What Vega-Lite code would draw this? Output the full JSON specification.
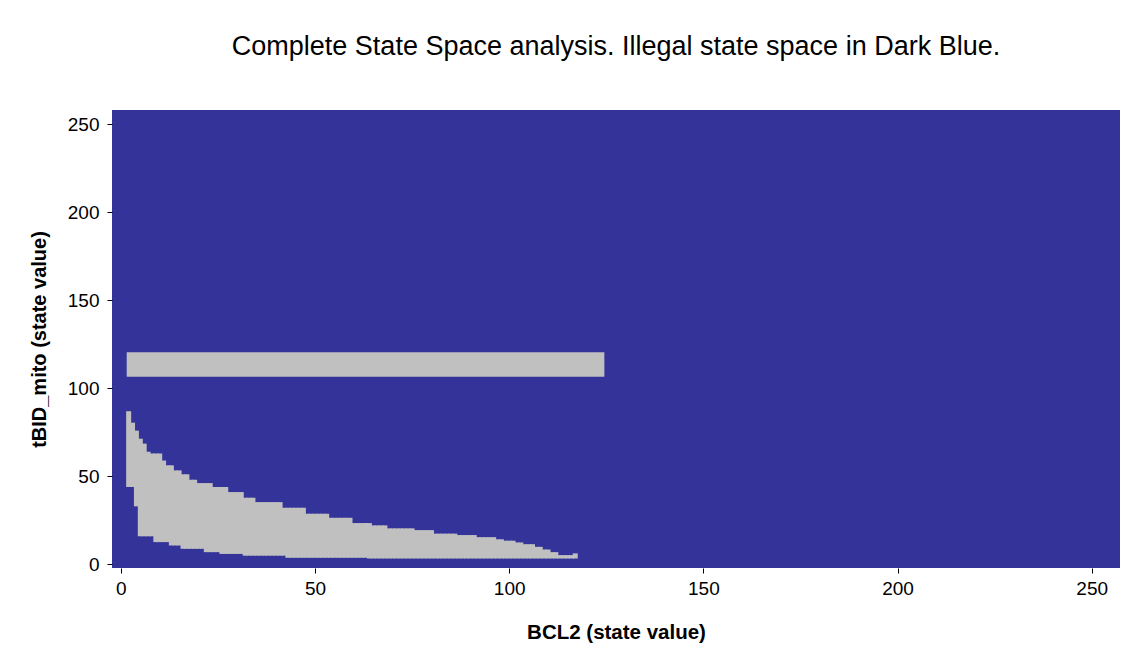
{
  "$schema": "https://vega.github.io/schema/vega-lite/v6.json",
  "autosize": "none",
  "width": 1008,
  "height": 458,
  "padding": {"left": 112, "top": 110, "right": 23, "bottom": 92},
  "background": "white",
  "title": {
    "text": "Complete State Space analysis. Illegal state space in Dark Blue.",
    "font": "Liberation Sans",
    "fontSize": 27,
    "fontWeight": "normal",
    "color": "black",
    "anchor": "middle",
    "offset": 49
  },
  "config": {
    "view": {"fill": "#333399", "stroke": null},
    "axis": {
      "labelFont": "Liberation Sans",
      "titleFont": "Liberation Sans",
      "labelFontSize": 19,
      "titleFontSize": 20,
      "titleFontWeight": "bold",
      "labelColor": "black",
      "titleColor": "black",
      "tickColor": "black",
      "tickSize": 5,
      "domain": false,
      "grid": false
    }
  },
  "datasets": {
    "legal_band": [
      {"bcl2_start": 1.5, "bcl2_end": 124.5, "tbid_start": 106.5, "tbid_end": 120.5}
    ],
    "legal_curve": [
      {"bcl2": 2, "lo": 44, "hi": 87},
      {"bcl2": 3, "lo": 44, "hi": 80.5},
      {"bcl2": 4, "lo": 33, "hi": 76},
      {"bcl2": 5, "lo": 16, "hi": 71.4},
      {"bcl2": 6, "lo": 16, "hi": 68.6},
      {"bcl2": 7, "lo": 16, "hi": 64},
      {"bcl2": 8, "lo": 16, "hi": 63},
      {"bcl2": 9, "lo": 12.7, "hi": 63},
      {"bcl2": 10, "lo": 12.7, "hi": 63},
      {"bcl2": 11, "lo": 12.7, "hi": 59},
      {"bcl2": 12, "lo": 12.7, "hi": 56.3},
      {"bcl2": 13, "lo": 10.8, "hi": 56.3},
      {"bcl2": 14, "lo": 10.8, "hi": 53.4},
      {"bcl2": 15, "lo": 10.8, "hi": 53.4},
      {"bcl2": 16, "lo": 8.9, "hi": 51.2},
      {"bcl2": 17, "lo": 8.9, "hi": 51.2},
      {"bcl2": 18, "lo": 8.9, "hi": 48.1},
      {"bcl2": 19, "lo": 8.9, "hi": 48.1},
      {"bcl2": 20, "lo": 8.9, "hi": 46.2},
      {"bcl2": 21, "lo": 8.9, "hi": 46.2},
      {"bcl2": 22, "lo": 7, "hi": 46.2},
      {"bcl2": 23, "lo": 7, "hi": 46.2},
      {"bcl2": 24, "lo": 7, "hi": 44},
      {"bcl2": 25, "lo": 7, "hi": 44},
      {"bcl2": 26, "lo": 6, "hi": 44},
      {"bcl2": 27, "lo": 6, "hi": 44},
      {"bcl2": 28, "lo": 6, "hi": 41.1},
      {"bcl2": 29, "lo": 6, "hi": 41.1},
      {"bcl2": 30, "lo": 6, "hi": 41.1},
      {"bcl2": 31, "lo": 6, "hi": 41.1},
      {"bcl2": 32, "lo": 5, "hi": 37.9},
      {"bcl2": 33, "lo": 5, "hi": 37.9},
      {"bcl2": 34, "lo": 5, "hi": 37.9},
      {"bcl2": 35, "lo": 5, "hi": 35.4},
      {"bcl2": 36, "lo": 5, "hi": 35.4},
      {"bcl2": 37, "lo": 5, "hi": 35.4},
      {"bcl2": 38, "lo": 5, "hi": 35.4},
      {"bcl2": 39, "lo": 5, "hi": 35.4},
      {"bcl2": 40, "lo": 5, "hi": 35.4},
      {"bcl2": 41, "lo": 5, "hi": 35.4},
      {"bcl2": 42, "lo": 5, "hi": 32.2},
      {"bcl2": 43, "lo": 3.8, "hi": 32.2},
      {"bcl2": 44, "lo": 3.8, "hi": 32.2},
      {"bcl2": 45, "lo": 3.8, "hi": 32.2},
      {"bcl2": 46, "lo": 3.8, "hi": 32.2},
      {"bcl2": 47, "lo": 3.8, "hi": 32.2},
      {"bcl2": 48, "lo": 3.8, "hi": 28.8},
      {"bcl2": 49, "lo": 3.8, "hi": 28.8},
      {"bcl2": 50, "lo": 3.8, "hi": 28.8},
      {"bcl2": 51, "lo": 3.8, "hi": 28.8},
      {"bcl2": 52, "lo": 3.8, "hi": 28.8},
      {"bcl2": 53, "lo": 3.8, "hi": 28.8},
      {"bcl2": 54, "lo": 3.8, "hi": 26.5},
      {"bcl2": 55, "lo": 3.8, "hi": 26.5},
      {"bcl2": 56, "lo": 3.8, "hi": 26.5},
      {"bcl2": 57, "lo": 3.8, "hi": 26.5},
      {"bcl2": 58, "lo": 3.8, "hi": 26.5},
      {"bcl2": 59, "lo": 3.8, "hi": 26.5},
      {"bcl2": 60, "lo": 3.8, "hi": 23.5},
      {"bcl2": 61, "lo": 3.8, "hi": 23.5},
      {"bcl2": 62, "lo": 3.8, "hi": 23.5},
      {"bcl2": 63, "lo": 3.8, "hi": 23.5},
      {"bcl2": 64, "lo": 3.4, "hi": 23.5},
      {"bcl2": 65, "lo": 3.4, "hi": 22.2},
      {"bcl2": 66, "lo": 3.4, "hi": 22.2},
      {"bcl2": 67, "lo": 3.4, "hi": 22.2},
      {"bcl2": 68, "lo": 3.4, "hi": 22.2},
      {"bcl2": 69, "lo": 3.4, "hi": 20.5},
      {"bcl2": 70, "lo": 3.4, "hi": 20.5},
      {"bcl2": 71, "lo": 3.4, "hi": 20.5},
      {"bcl2": 72, "lo": 3.4, "hi": 20.5},
      {"bcl2": 73, "lo": 3.4, "hi": 20.5},
      {"bcl2": 74, "lo": 3.4, "hi": 20.5},
      {"bcl2": 75, "lo": 3.4, "hi": 20.5},
      {"bcl2": 76, "lo": 3.4, "hi": 19.5},
      {"bcl2": 77, "lo": 3.4, "hi": 19.5},
      {"bcl2": 78, "lo": 3.4, "hi": 19.5},
      {"bcl2": 79, "lo": 3.4, "hi": 19.5},
      {"bcl2": 80, "lo": 3.4, "hi": 19.5},
      {"bcl2": 81, "lo": 3.4, "hi": 17.5},
      {"bcl2": 82, "lo": 3.4, "hi": 17.5},
      {"bcl2": 83, "lo": 3.4, "hi": 17.5},
      {"bcl2": 84, "lo": 3.4, "hi": 17.5},
      {"bcl2": 85, "lo": 3.4, "hi": 17.5},
      {"bcl2": 86, "lo": 3.4, "hi": 17.5},
      {"bcl2": 87, "lo": 3.4, "hi": 16.7},
      {"bcl2": 88, "lo": 3.4, "hi": 16.7},
      {"bcl2": 89, "lo": 3.4, "hi": 16.7},
      {"bcl2": 90, "lo": 3.4, "hi": 16.7},
      {"bcl2": 91, "lo": 3.4, "hi": 16.7},
      {"bcl2": 92, "lo": 3.4, "hi": 15.5},
      {"bcl2": 93, "lo": 3.4, "hi": 15.5},
      {"bcl2": 94, "lo": 3.4, "hi": 15.5},
      {"bcl2": 95, "lo": 3.4, "hi": 15.5},
      {"bcl2": 96, "lo": 3.4, "hi": 15.5},
      {"bcl2": 97, "lo": 3.4, "hi": 14.3},
      {"bcl2": 98, "lo": 3.4, "hi": 14.3},
      {"bcl2": 99, "lo": 3.4, "hi": 13.5},
      {"bcl2": 100, "lo": 3.4, "hi": 13.5},
      {"bcl2": 101, "lo": 3.4, "hi": 13.5},
      {"bcl2": 102, "lo": 3.4, "hi": 12.5},
      {"bcl2": 103, "lo": 3.4, "hi": 12.5},
      {"bcl2": 104, "lo": 3.4, "hi": 11.5},
      {"bcl2": 105, "lo": 3.4, "hi": 11.5},
      {"bcl2": 106, "lo": 3.4, "hi": 11.5},
      {"bcl2": 107, "lo": 3.4, "hi": 10},
      {"bcl2": 108, "lo": 3.4, "hi": 10},
      {"bcl2": 109, "lo": 3.4, "hi": 8.5},
      {"bcl2": 110, "lo": 3.4, "hi": 8.5},
      {"bcl2": 111, "lo": 3.4, "hi": 7},
      {"bcl2": 112, "lo": 3.4, "hi": 7},
      {"bcl2": 113, "lo": 3.4, "hi": 5.3},
      {"bcl2": 114, "lo": 3.4, "hi": 5.3},
      {"bcl2": 115, "lo": 3.4, "hi": 5.3},
      {"bcl2": 116, "lo": 3.4, "hi": 5.3},
      {"bcl2": 117, "lo": 3.4, "hi": 6.3}
    ]
  },
  "layer": [
    {
      "data": {"name": "legal_band"},
      "mark": {"type": "rect", "color": "#C0C0C0"},
      "encoding": {
        "x": {"field": "bcl2_start", "type": "quantitative"},
        "x2": {"field": "bcl2_end"},
        "y": {"field": "tbid_start", "type": "quantitative"},
        "y2": {"field": "tbid_end"}
      }
    },
    {
      "data": {"name": "legal_curve"},
      "mark": {"type": "bar", "color": "#C0C0C0", "opacity": 1, "size": 5, "orient": "vertical"},
      "encoding": {
        "x": {
          "field": "bcl2",
          "type": "quantitative",
          "scale": {"domain": [-1, 256], "nice": false, "zero": false},
          "axis": {"values": [0, 50, 100, 150, 200, 250], "title": "BCL2 (state value)", "labelPadding": 6, "titlePadding": 24, "titleFontSize": 20.5}
        },
        "y": {
          "field": "hi",
          "type": "quantitative",
          "scale": {"domain": [-2, 258], "nice": false, "zero": false},
          "axis": {"values": [0, 50, 100, 150, 200, 250], "title": "tBID_mito (state value)", "labelPadding": 8, "titlePadding": 18}
        },
        "y2": {"field": "lo"}
      }
    }
  ],
  "resolve": {"scale": {"x": "shared", "y": "shared"}}
}
